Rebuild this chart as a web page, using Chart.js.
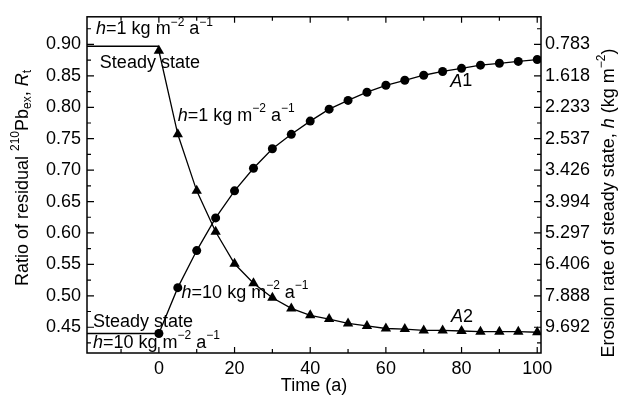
<!DOCTYPE html>
<html>
<head>
<meta charset="utf-8">
<script src="https://cdn.jsdelivr.net/npm/chart.js@4"></script>
<style>
  body { margin: 0; background: #fff; }
</style>
</head>
<body>
<canvas id="chart" width="619" height="403"></canvas>
<script>
// time after the change of erosion rate (a)
const times = [0, 5, 10, 15, 20, 25, 30, 35, 40, 45, 50, 55, 60, 65, 70, 75, 80, 85, 90, 95, 100];
// A1: rate goes from 10 to 1 kg m-2 a-1
const a1Values = [0.440, 0.513, 0.572, 0.624, 0.667, 0.703, 0.734, 0.757, 0.778, 0.797, 0.811,
                  0.824, 0.835, 0.843, 0.851, 0.857, 0.862, 0.867, 0.870, 0.873, 0.876];
// A2: rate goes from 1 to 10 kg m-2 a-1
const a2Values = [0.890, 0.757, 0.667, 0.602, 0.551, 0.520, 0.497, 0.480, 0.469, 0.463, 0.456,
                  0.452, 0.448, 0.447, 0.445, 0.445, 0.444, 0.443, 0.443, 0.443, 0.442];
// steady state before t = 0
const steadyTimes = [-19, 0];
const steadyA1 = [0.440, 0.440];
const steadyA2 = [0.897, 0.897];

const xTicks = [0, 20, 40, 60, 80, 100];
const leftTicks = [0.45, 0.50, 0.55, 0.60, 0.65, 0.70, 0.75, 0.80, 0.85, 0.90];
const rightTickLabels = ['9.692', '7.888', '6.406', '5.297', '3.994', '3.426', '2.537', '2.233', '1.618', '0.783'];

const FONT = '"Liberation Sans", Arial, Helvetica, sans-serif';

function pts(xs, ys) {
    return xs.map((x, i) => ({ x: x, y: ys[i] }));
}

function fontFor(style) {
    const small = style === 'sup' || style === 'sub';
    return (style === 'i' ? 'italic ' : '') + (small ? '12px ' : '18px ') + FONT;
}

// draws a run of text pieces, with italic / superscript / subscript parts
function drawRich(ctx, parts, x, y, align) {
    let total = 0;
    parts.forEach(p => { ctx.font = fontFor(p[1]); total += ctx.measureText(p[0]).width; });
    let cx = align === 'center' ? x - total / 2 : x;
    ctx.textAlign = 'left';
    ctx.textBaseline = 'middle';
    parts.forEach(p => {
        ctx.font = fontFor(p[1]);
        const dy = p[1] === 'sup' ? -7 : p[1] === 'sub' ? 5 : 0;
        ctx.fillText(p[0], cx, y + dy);
        cx += ctx.measureText(p[0]).width;
    });
}

const rate1 = [['h', 'i'], ['=1 kg m', 'n'], ['\u22122', 'sup'], [' a', 'n'], ['\u22121', 'sup']];
const rate10 = [['h', 'i'], ['=10 kg m', 'n'], ['\u22122', 'sup'], [' a', 'n'], ['\u22121', 'sup']];
const steady = [['Steady state', 'n']];

// label anchors, in data units
const notes = [
    { parts: rate1, x: -16.6, y: 0.924 },
    { parts: steady, x: -15.6, y: 0.871 },
    { parts: rate1, x: 5.0, y: 0.786 },
    { parts: rate10, x: 6.0, y: 0.505 },
    { parts: steady, x: -17.4, y: 0.459 },
    { parts: rate10, x: -17.4, y: 0.425 },
    { parts: [['A', 'i'], ['1', 'n']], x: 77.0, y: 0.841 },
    { parts: [['A', 'i'], ['2', 'n']], x: 77.2, y: 0.466 }
];

const framePlugin = {
    id: 'frame',
    afterDraw(chart) {
        const { ctx, chartArea: a, scales: { x, y } } = chart;
        ctx.save();
        ctx.strokeStyle = '#000';
        ctx.fillStyle = '#000';
        ctx.lineWidth = 1.5;
        ctx.strokeRect(a.left, a.top, a.right - a.left, a.bottom - a.top);

        // inward ticks on all four sides
        ctx.lineWidth = 1.2;
        ctx.beginPath();
        for (let v = -10; v <= 100; v += 10) {
            const px = x.getPixelForValue(v);
            const len = v % 20 === 0 ? 6 : 4;
            ctx.moveTo(px, a.bottom); ctx.lineTo(px, a.bottom - len);
            ctx.moveTo(px, a.top); ctx.lineTo(px, a.top + len);
        }
        for (let k = 17; k <= 37; k++) {
            const py = y.getPixelForValue(k * 0.025);
            const len = k % 2 === 0 ? 7 : 4;
            ctx.moveTo(a.left, py); ctx.lineTo(a.left + len, py);
            ctx.moveTo(a.right, py); ctx.lineTo(a.right - len, py);
        }
        ctx.stroke();

        notes.forEach(n => drawRich(ctx, n.parts, x.getPixelForValue(n.x), y.getPixelForValue(n.y), 'left'));

        // axis titles
        drawRich(ctx, [['Time (a)', 'n']], (a.left + a.right) / 2, 386, 'center');

        ctx.save();
        ctx.translate(23, 178);
        ctx.rotate(-Math.PI / 2);
        drawRich(ctx, [['Ratio of residual ', 'n'], ['210', 'sup'], ['Pb', 'n'], ['ex', 'sub'],
                       [', ', 'n'], ['R', 'i'], ['t', 'sub']], 0, 0, 'center');
        ctx.restore();

        ctx.save();
        ctx.translate(609, 203);
        ctx.rotate(-Math.PI / 2);
        drawRich(ctx, [['Erosion rate of steady state, ', 'n'], ['h', 'i'], [' (kg m', 'n'],
                       ['\u22122', 'sup'], [')', 'n']], 0, 0, 'center');
        ctx.restore();

        ctx.restore();
    }
};

const tickFont = { family: FONT, size: 18 };
const noGrid = { display: false, drawTicks: false };

new Chart(document.getElementById('chart'), {
    type: 'line',
    data: {
        datasets: [
            {
                data: pts(times, a1Values),
                borderColor: '#000', borderWidth: 1.3,
                pointStyle: 'circle', pointRadius: 4.5,
                pointBackgroundColor: '#000', pointBorderWidth: 0
            },
            {
                data: pts(times, a2Values),
                borderColor: '#000', borderWidth: 1.3,
                pointStyle: 'triangle', pointRadius: 6,
                pointBackgroundColor: '#000', pointBorderWidth: 0
            },
            {
                data: pts(steadyTimes, steadyA1),
                borderColor: '#000', borderWidth: 1.5, pointRadius: 0
            },
            {
                data: pts(steadyTimes, steadyA2),
                borderColor: '#000', borderWidth: 1.5, pointRadius: 0
            }
        ]
    },
    options: {
        responsive: false,
        animation: false,
        events: [],
        layout: { padding: { top: 15, left: 0, right: 0, bottom: 0 } },
        plugins: {
            legend: { display: false },
            tooltip: { enabled: false }
        },
        scales: {
            x: {
                type: 'linear',
                min: -19,
                max: 101,
                afterBuildTicks: s => { s.ticks = xTicks.map(v => ({ value: v })); },
                afterFit: s => { s.height = 50; },
                grid: noGrid,
                border: { display: false },
                ticks: { color: '#000', font: tickFont, padding: 5, maxRotation: 0 }
            },
            y: {
                position: 'left',
                min: 0.409,
                max: 0.944,
                afterBuildTicks: s => { s.ticks = leftTicks.map(v => ({ value: v })); },
                afterFit: s => { s.width = 87; },
                grid: noGrid,
                border: { display: false },
                ticks: { color: '#000', font: tickFont, padding: 6, callback: v => v.toFixed(2) }
            },
            y2: {
                position: 'right',
                min: 0.409,
                max: 0.944,
                afterBuildTicks: s => { s.ticks = leftTicks.map(v => ({ value: v })); },
                afterFit: s => { s.width = 78; },
                grid: noGrid,
                border: { display: false },
                ticks: { color: '#000', font: tickFont, padding: 4, callback: (v, i) => rightTickLabels[i] }
            }
        }
    },
    plugins: [framePlugin]
});
</script>
</body>
</html>
